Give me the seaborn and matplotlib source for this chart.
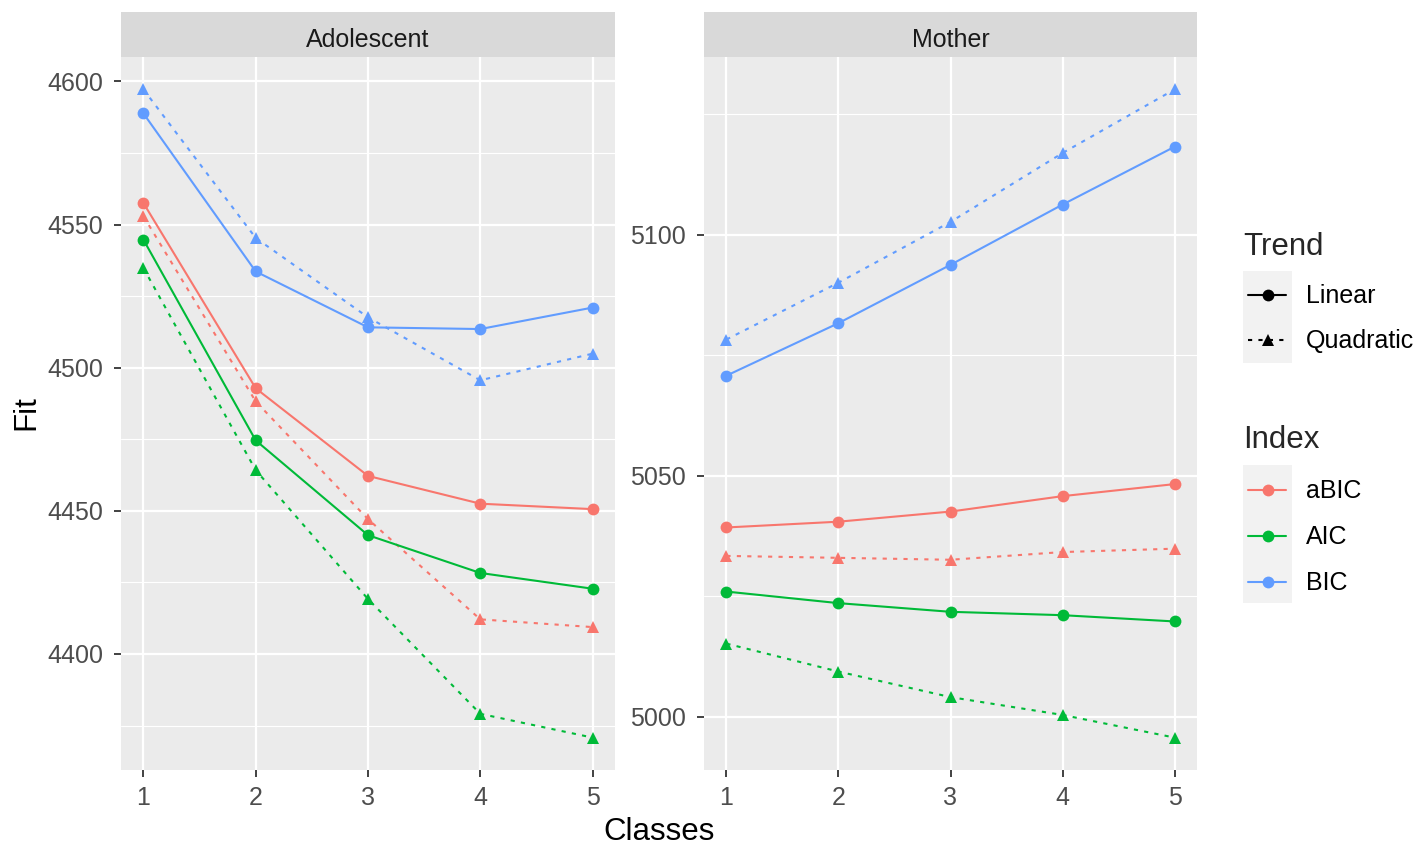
import numpy as np
import pandas as pd
import matplotlib
matplotlib.use("Agg")
import matplotlib.pyplot as plt
from matplotlib.lines import Line2D
from matplotlib.patches import Rectangle
import seaborn as sns

# ---------------- data ----------------
classes = [1, 2, 3, 4, 5]
panels = ["Adolescent", "Mother"]
indices = ["aBIC", "AIC", "BIC"]
trends = ["Linear", "Quadratic"]

adol_abic_linear = [4557.5, 4492.8, 4462.2, 4452.5, 4450.6]
adol_abic_quadratic = [4552.9, 4488.2, 4447.1, 4412.1, 4409.4]
adol_aic_linear = [4544.7, 4474.6, 4441.5, 4428.3, 4422.8]
adol_aic_quadratic = [4534.8, 4464.2, 4419.2, 4379.1, 4370.8]
adol_bic_linear = [4588.8, 4533.6, 4514.1, 4513.5, 4521.0]
adol_bic_quadratic = [4597.2, 4545.3, 4517.6, 4495.6, 4504.9]

moth_abic_linear = [5039.3, 5040.5, 5042.6, 5045.8, 5048.3]
moth_abic_quadratic = [5033.4, 5033.0, 5032.6, 5034.2, 5034.9]
moth_aic_linear = [5026.0, 5023.6, 5021.8, 5021.1, 5019.8]
moth_aic_quadratic = [5015.2, 5009.4, 5004.1, 5000.4, 4995.7]
moth_bic_linear = [5070.8, 5081.7, 5093.8, 5106.3, 5118.3]
moth_bic_quadratic = [5078.3, 5090.1, 5102.7, 5117.0, 5130.2]

adol_yticks = [4400, 4450, 4500, 4550, 4600]
moth_yticks = [5000, 5050, 5100]

series = {
    ("Adolescent", "aBIC", "Linear"): adol_abic_linear,
    ("Adolescent", "aBIC", "Quadratic"): adol_abic_quadratic,
    ("Adolescent", "AIC", "Linear"): adol_aic_linear,
    ("Adolescent", "AIC", "Quadratic"): adol_aic_quadratic,
    ("Adolescent", "BIC", "Linear"): adol_bic_linear,
    ("Adolescent", "BIC", "Quadratic"): adol_bic_quadratic,
    ("Mother", "aBIC", "Linear"): moth_abic_linear,
    ("Mother", "aBIC", "Quadratic"): moth_abic_quadratic,
    ("Mother", "AIC", "Linear"): moth_aic_linear,
    ("Mother", "AIC", "Quadratic"): moth_aic_quadratic,
    ("Mother", "BIC", "Linear"): moth_bic_linear,
    ("Mother", "BIC", "Quadratic"): moth_bic_quadratic,
}
rows = []
for (p, idx, tr), vals in series.items():
    for c, v in zip(classes, vals):
        rows.append({"Panel": p, "Index": idx, "Trend": tr, "Classes": c, "Fit": v})
df = pd.DataFrame(rows)

# ---------------- style ----------------
sns.set_theme(style="darkgrid")
plt.rcParams["font.family"] = ["Liberation Sans", "DejaVu Sans"]

palette = {"aBIC": "#F8766D", "AIC": "#00BA38", "BIC": "#619CFF"}
markers = {"Linear": "o", "Quadratic": "^"}
dash_pat = (2.0, 3.0)
dashes = {"Linear": "", "Quadratic": dash_pat}
MS = 8.5
LW = 1.5
SMALL = 18
BIG = 22.5

W, H = 1424, 847
fig = plt.figure(figsize=(W / 100, H / 100), dpi=100)


def fbox(left, top, right, bottom):
    return [left / W, 1 - bottom / H, (right - left) / W, (bottom - top) / H]


panel_px = {"Adolescent": (121, 615), "Mother": (704, 1197)}
ptop, pbot = 57, 770
strip_top = 12
yticks_map = {"Adolescent": adol_yticks, "Mother": moth_yticks}

tick_col = "#4D4D4D"
for p in panels:
    l, r = panel_px[p]
    ax = fig.add_axes(fbox(l, ptop, r, pbot))
    sub = df[df["Panel"] == p]
    sns.lineplot(data=sub, x="Classes", y="Fit", hue="Index", style="Trend",
                 hue_order=indices, style_order=trends, palette=palette,
                 markers=markers, dashes=dashes, markersize=MS,
                 markeredgewidth=0, linewidth=LW, legend=False, ax=ax)
    ax.set_facecolor("#EBEBEB")
    for s in ax.spines.values():
        s.set_visible(False)
    ax.set_xticks(classes)
    yt = yticks_map[p]
    ax.set_yticks(yt)
    step = yt[1] - yt[0]
    minor = [yt[0] - step / 2] + [t + step / 2 for t in yt]
    ax.set_yticks(minor, minor=True)
    lo, hi = sub["Fit"].min(), sub["Fit"].max()
    rng = hi - lo
    ax.set_ylim(lo - 0.05 * rng, hi + 0.05 * rng)
    ax.set_xlim(1 - 0.2, 5 + 0.2)
    ax.grid(which="major", color="white", linewidth=1.6)
    ax.grid(which="minor", axis="y", color="white", linewidth=0.8)
    ax.grid(which="minor", axis="x", visible=False)
    ax.set_axisbelow(True)
    ax.tick_params(axis="both", which="major", labelsize=SMALL, labelcolor=tick_col,
                   color="#333333", length=5, width=1.3,
                   bottom=True, left=True)
    ax.tick_params(axis="x", which="major", pad=6.5)
    ax.tick_params(axis="y", which="major", pad=8)
    ax.tick_params(which="minor", length=0)
    ax.set_xlabel("")
    ax.set_ylabel("")
    # strip
    sax = fig.add_axes(fbox(l, strip_top, r, ptop))
    sax.set_facecolor("#D9D9D9")
    sax.grid(False)
    sax.set_xticks([])
    sax.set_yticks([])
    for s in sax.spines.values():
        s.set_visible(False)
    sax.text(0.5, 0.38, p, ha="center", va="center", fontsize=SMALL,
             color="#1A1A1A", transform=sax.transAxes)

fig.text(659 / W, 1 - 832 / H, "Classes", ha="center", va="center", fontsize=BIG, color="black")
fig.text(26 / W, 1 - 413 / H, "Fit", ha="center", va="center", rotation=90, fontsize=BIG, color="black")

# ---------------- legends (drawn in pixel coords) ----------------
lax = fig.add_axes([0, 0, 1, 1], facecolor="none")
lax.set_xlim(0, W)
lax.set_ylim(H, 0)
lax.axis("off")

kx0, kx1 = 1243, 1292
lx0, lx1 = 1248, 1286
lax.text(kx0, 247, "Trend", fontsize=BIG, ha="left", va="center")
lax.add_patch(Rectangle((kx0, 271), kx1 - kx0, 92, facecolor="#F2F2F2", edgecolor="none"))
for yy, tr in zip([295, 340], trends):
    ls = "-" if tr == "Linear" else (0, dash_pat)
    lax.add_line(Line2D([lx0, lx1], [yy, yy], color="black", linewidth=LW, linestyle=ls))
    lax.plot([(kx0 + kx1) / 2], [yy], marker=markers[tr], color="black", markersize=MS, markeredgewidth=0)
    lax.text(1306, yy + 1, tr, fontsize=SMALL, ha="left", va="center", color="black")

lax.text(kx0, 440, "Index", fontsize=BIG, ha="left", va="center")
lax.add_patch(Rectangle((kx0, 465), kx1 - kx0, 138, facecolor="#F2F2F2", edgecolor="none"))
for yy, idx in zip([490, 536, 582], indices):
    lax.add_line(Line2D([lx0, lx1], [yy, yy], color=palette[idx], linewidth=LW))
    lax.plot([(kx0 + kx1) / 2], [yy], marker="o", color=palette[idx], markersize=MS, markeredgewidth=0)
    lax.text(1306, yy + 1, idx, fontsize=SMALL, ha="left", va="center", color="black")

fig.savefig("out.png", dpi=100, facecolor="white")
